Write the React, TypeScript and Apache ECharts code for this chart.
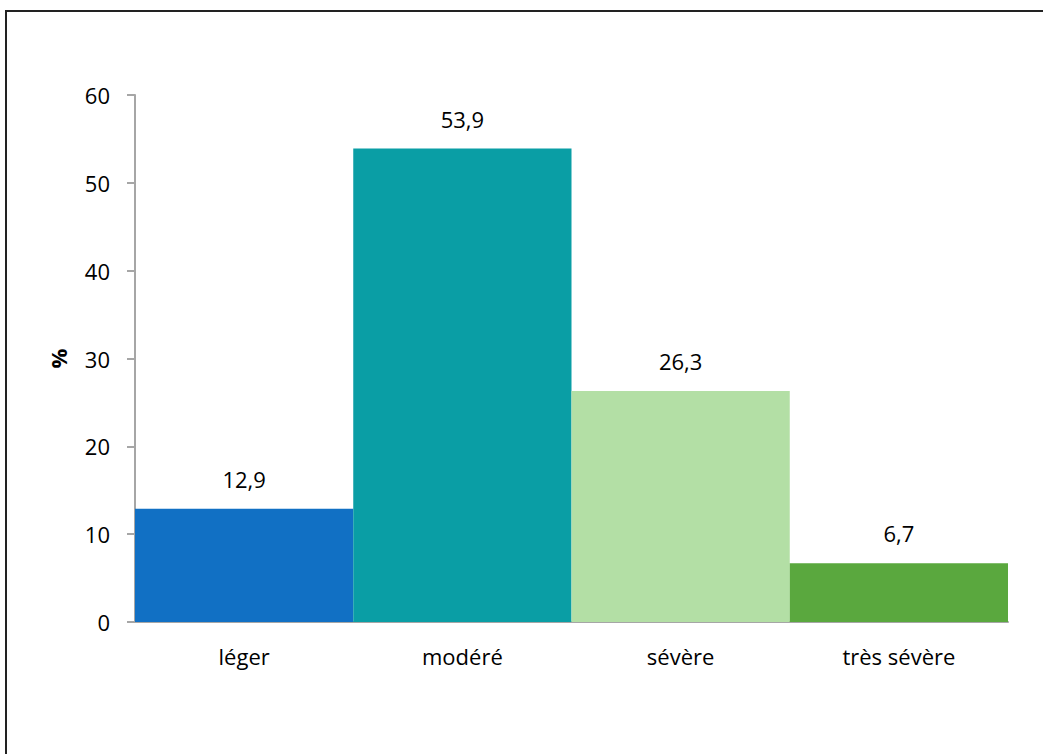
import React, { useEffect, useRef } from "react";
import * as echarts from "echarts";

const categories = ["léger", "modéré", "sévère", "très sévère"];
const values = [12.9, 53.9, 26.3, 6.7];
const colors = ["#1170C4", "#0A9EA5", "#B3DFA5", "#5AA83E"];
const yTicks = { min: 0, max: 60, interval: 10 };

export default function App() {
  const ref = useRef<HTMLDivElement>(null);
  useEffect(() => {
    document.body.style.margin = "0";
    const chart = echarts.init(ref.current!, null, { renderer: "svg" });
    const font = "'Open Sans', 'Noto Sans', sans-serif";
    chart.setOption({
      animation: false,
      backgroundColor: "#fff",
      textStyle: { fontFamily: font },
      graphic: [
        {
          type: "rect",
          shape: { x: 6, y: 11, width: 1100, height: 800 },
          style: { fill: "none", stroke: "#222", lineWidth: 2 },
          silent: true,
        },
      ],
      grid: { left: 135, right: 35, top: 95, bottom: 132, containLabel: false },
      xAxis: {
        type: "category",
        data: categories,
        axisLine: { show: true, lineStyle: { color: "#A6A6A6", width: 2 } },
        axisTick: { show: false },
        axisLabel: { color: "#000", fontSize: 22, margin: 23, fontFamily: font },
      },
      yAxis: {
        type: "value",
        min: yTicks.min,
        max: yTicks.max,
        interval: yTicks.interval,
        name: "%",
        nameLocation: "middle",
        nameRotate: 90,
        nameGap: 66,
        nameTextStyle: { color: "#000", fontSize: 22, fontWeight: "bold", fontFamily: font },
        axisLine: { show: true, lineStyle: { color: "#A6A6A6", width: 2 } },
        axisTick: { show: true, inside: false, length: 8, lineStyle: { color: "#A6A6A6", width: 2 } },
        splitLine: { show: false },
        axisLabel: { color: "#000", fontSize: 22, margin: 25, fontFamily: font },
      },
      series: [
        {
          type: "bar",
          barCategoryGap: "0%",
          data: values.map((v, i) => ({ value: v, itemStyle: { color: colors[i] } })),
          label: {
            show: true,
            position: "top",
            distance: 19,
            color: "#000",
            fontSize: 22,
            fontFamily: font,
            formatter: (p: any) => String(p.value).replace(".", ","),
          },
        },
      ],
    });
    return () => chart.dispose();
  }, []);
  return (
    <div
      ref={ref}
      style={{ position: "fixed", left: 0, top: 0, width: 1043, height: 754 }}
    />
  );
}
